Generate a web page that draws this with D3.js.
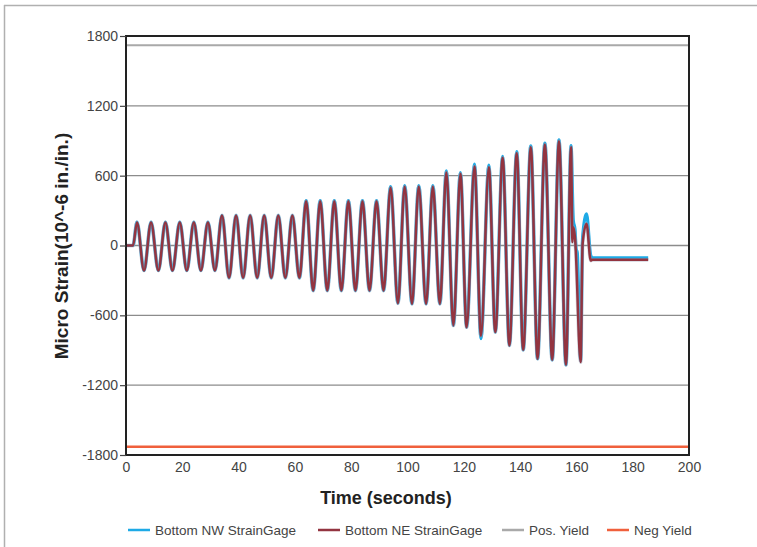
<!DOCTYPE html>
<html>
<head>
<meta charset="utf-8">
<script src="https://cdn.jsdelivr.net/npm/d3@7/dist/d3.min.js"></script>
<style>
  html, body { margin: 0; padding: 0; background: #fff; }
  svg { display: block; }
  text { font-family: "Liberation Sans", Arial, sans-serif; }
</style>
</head>
<body>
<svg id="chart" width="757" height="547"></svg>
<script>
// ---- Data ----
const timeNE = [0, 2.5, 3.9, 6.4, 8.9, 11.5, 14.0, 16.5, 19.1, 21.6, 24.1, 26.6, 29.1, 31.6,
  34.1, 36.6, 39.1, 41.6, 44.1, 46.6, 49.1, 51.6, 54.1, 56.6, 59.1, 61.6,
  64.0, 66.5, 69.0, 71.5, 74.0, 76.5, 79.0, 81.5, 84.0, 86.5, 89.0, 91.5,
  94.0, 96.6, 99.0, 101.6, 104.0, 106.6, 109.0, 111.5,
  113.8, 116.3, 118.8, 121.0, 123.8, 126.1, 128.9, 131.2, 133.8, 136.2, 138.8, 141.1,
  143.8, 146.2, 148.8, 151.4, 153.8, 156.3, 158.1,
  158.6, 158.9, 159.5, 161.5, 162.2, 163.6, 165.1, 165.7, 185.5];
const valuesNE = [0, 0, 198, -215, 198, -215, 198, -215, 198, -215, 198, -215, 198, -215,
  258, -278, 258, -278, 258, -278, 258, -278, 258, -278, 258, -278,
  380, -387, 380, -387, 380, -387, 380, -387, 380, -387, 380, -387,
  496, -496, 505, -501, 505, -501, 505, -501,
  628, -687, 616, -702, 679, -775, 672, -744, 753, -859, 793, -896,
  845, -973, 868, -982, 896, -1025, 845,
  30, 157, 71, -1002, 14, 186, -129, -123, -123];

const timeNW = [0, 2.5, 3.9, 6.4, 8.9, 11.5, 14.0, 16.5, 19.1, 21.6, 24.1, 26.6, 29.1, 31.6,
  34.1, 36.6, 39.1, 41.6, 44.1, 46.6, 49.1, 51.6, 54.1, 56.6, 59.1, 61.6,
  64.0, 66.5, 69.0, 71.5, 74.0, 76.5, 79.0, 81.5, 84.0, 86.5, 89.0, 91.5,
  94.0, 96.6, 99.0, 101.6, 104.0, 106.6, 109.0, 111.5,
  113.8, 116.3, 118.8, 121.0, 123.8, 126.1, 128.9, 131.2, 133.8, 136.2, 138.8, 141.1,
  143.8, 146.2, 148.8, 151.4, 153.8, 156.3, 158.1,
  158.9, 159.5, 159.9, 160.3, 161.5, 162.2, 163.6, 165.1, 165.7, 185.5];
const valuesNW = [0, 0, 200, -215, 200, -215, 200, -215, 200, -215, 200, -215, 200, -215,
  260, -278, 260, -278, 260, -278, 260, -278, 260, -278, 260, -278,
  385, -387, 385, -387, 385, -387, 385, -387, 385, -387, 385, -387,
  505, -496, 515, -501, 515, -501, 515, -501,
  642, -687, 626, -702, 700, -800, 690, -744, 766, -859, 806, -896,
  856, -973, 880, -982, 908, -1025, 858,
  215, 140, -28, -60, -990, 71, 272, -86, -106, -106];

const posYield = 1720;
const negYield = -1730;

const yTicks = [-1800, -1200, -600, 0, 600, 1200, 1800];
const xTicks = [0, 20, 40, 60, 80, 100, 120, 140, 160, 180, 200];

const seriesNames = ["Bottom NW StrainGage", "Bottom NE StrainGage", "Pos. Yield", "Neg Yield"];
const seriesColors = ["#1eaae6", "#933440", "#a9a9a9", "#f0603c"];

// ---- Layout ----
const svg = d3.select("#chart");
const L = 126, R = 689, T = 36, B = 455;

const x = d3.scaleLinear().domain([0, 200]).range([L, R]);
const y = d3.scaleLinear().domain([-1800, 1800]).range([B, T]);

// outer page frame (top and left edges)
svg.append("line").attr("x1", 4).attr("x2", 757).attr("y1", 5.5).attr("y2", 5.5)
  .attr("stroke", "#b0b0b0").attr("stroke-width", 1.5);
svg.append("line").attr("x1", 4.5).attr("x2", 4.5).attr("y1", 5).attr("y2", 547)
  .attr("stroke", "#b0b0b0").attr("stroke-width", 1.5);

// grid lines
svg.append("g").selectAll("line")
  .data(yTicks.filter(d => d > -1800 && d < 1800))
  .join("line")
  .attr("x1", L).attr("x2", R)
  .attr("y1", d => y(d)).attr("y2", d => y(d))
  .attr("stroke", "#8c8c8c").attr("stroke-width", 1.3);

// yield lines
svg.append("line").attr("x1", L).attr("x2", R)
  .attr("y1", y(posYield)).attr("y2", y(posYield))
  .attr("stroke", seriesColors[2]).attr("stroke-width", 2);
svg.append("line").attr("x1", L).attr("x2", R)
  .attr("y1", y(negYield)).attr("y2", y(negYield))
  .attr("stroke", seriesColors[3]).attr("stroke-width", 2.5);

// series lines
const line = d3.line().x(d => x(d[0])).y(d => y(d[1])).curve(d3.curveMonotoneX);
const nw = timeNW.map((t, i) => [t, valuesNW[i]]);
const ne = timeNE.map((t, i) => [t, valuesNE[i]]);

svg.append("path").datum(nw).attr("d", line)
  .attr("fill", "none").attr("stroke", seriesColors[0]).attr("stroke-width", 3.2)
  .attr("stroke-linejoin", "round");
svg.append("path").datum(ne).attr("d", line)
  .attr("fill", "none").attr("stroke", "#9aa3b8").attr("stroke-width", 3.8)
  .attr("stroke-opacity", 0.45).attr("stroke-linejoin", "round");
svg.append("path").datum(ne).attr("d", line)
  .attr("fill", "none").attr("stroke", seriesColors[1]).attr("stroke-width", 2.5)
  .attr("stroke-linejoin", "round");

// plot frame
svg.append("rect").attr("x", L).attr("y", T).attr("width", R - L).attr("height", B - T)
  .attr("fill", "none").attr("stroke", "#222").attr("stroke-width", 2);

const fmt = d => String(d);

// y axis
const yAxis = d3.axisLeft(y).tickValues(yTicks).tickSize(6).tickPadding(2).tickFormat(fmt);
const gy = svg.append("g").attr("transform", `translate(${L},0)`).call(yAxis);
gy.select(".domain").remove();
gy.selectAll(".tick line").attr("stroke", "#444").attr("stroke-width", 1.2);
gy.selectAll(".tick text").attr("font-size", 14).attr("fill", "#444")
  .style("font-family", "'Liberation Sans', Arial, sans-serif");

// x axis
const xAxis = d3.axisBottom(x).tickValues(xTicks).tickSize(0).tickPadding(7).tickFormat(fmt);
const gx = svg.append("g").attr("transform", `translate(0,${B})`).call(xAxis);
gx.select(".domain").remove();
gx.selectAll(".tick text").attr("font-size", 14).attr("fill", "#444")
  .style("font-family", "'Liberation Sans', Arial, sans-serif");

// axis titles
svg.append("text").attr("x", 386).attr("y", 504).attr("text-anchor", "middle")
  .attr("font-size", 18).attr("font-weight", "bold").attr("fill", "#222")
  .text("Time (seconds)");
svg.append("text").attr("transform", "translate(68,246) rotate(-90)").attr("text-anchor", "middle")
  .attr("font-size", 19).attr("font-weight", "bold").attr("fill", "#222")
  .text("Micro Strain(10^-6 in./in.)");

// legend
const legendX = [128, 318, 502, 607];
const lg = svg.append("g").selectAll("g").data(seriesNames).join("g")
  .attr("transform", (d, i) => `translate(${legendX[i]},530)`);
lg.append("line").attr("x1", 0).attr("x2", 22).attr("y1", 0).attr("y2", 0)
  .attr("stroke", (d, i) => seriesColors[i]).attr("stroke-width", 2.5);
lg.append("text").attr("x", 27).attr("y", 5).attr("font-size", 13.5).attr("fill", "#444")
  .text(d => d);
</script>
</body>
</html>
